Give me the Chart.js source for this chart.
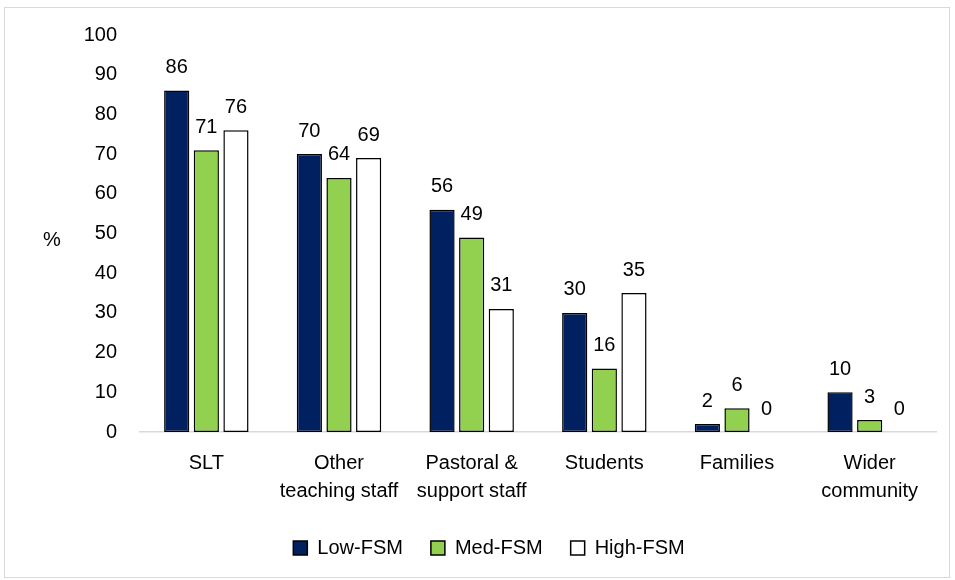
<!DOCTYPE html>
<html>
<head>
<meta charset="utf-8">
<script src="https://cdn.jsdelivr.net/npm/chart.js@4"></script>
<style>
  body { margin: 0; background: #fff; }
  #wrap { width: 955px; height: 580px; }
</style>
</head>
<body>
<div id="wrap"><canvas id="chart" width="955" height="580"></canvas></div>
<script>
const categories = [
  "SLT",
  ["Other", "teaching staff"],
  ["Pastoral &", "support staff"],
  "Students",
  "Families",
  ["Wider", "community"],
];
const lowFsm = [86, 70, 56, 30, 2, 10];
const medFsm = [71, 64, 49, 16, 6, 3];
const highFsm = [76, 69, 31, 35, 0, 0];
const yTicks = [0, 10, 20, 30, 40, 50, 60, 70, 80, 90, 100];

const FONT = "'Liberation Sans', Arial, sans-serif";

// frame, y title and value labels
const extras = {
  id: "extras",
  beforeDraw(chart) {
    const ctx = chart.ctx;
    ctx.save();
    ctx.strokeStyle = "#d9d9d9";
    ctx.lineWidth = 1;
    ctx.strokeRect(4.5, 7.5, 945, 570);
    ctx.restore();
  },
  afterDatasetsDraw(chart) {
    const ctx = chart.ctx;
    ctx.save();
    ctx.fillStyle = "#000";
    ctx.font = `20px ${FONT}`;
    ctx.textAlign = "center";
    ctx.textBaseline = "middle";
    chart.data.datasets.forEach((ds, i) => {
      chart.getDatasetMeta(i).data.forEach((bar, j) => {
        ctx.fillText(String(ds.data[j]), bar.x, bar.y - 23);
      });
    });
    ctx.fillText("%", 52, 240);
    ctx.restore();
  },
};

const dataset = (label, data, color) => ({
  label: label,
  data: data,
  backgroundColor: color,
  borderColor: "#000",
  borderWidth: 1.5,
  borderSkipped: false,
  categoryPercentage: 0.67,
  barPercentage: 0.85,
});

new Chart(document.getElementById("chart"), {
  type: "bar",
  data: {
    labels: categories,
    datasets: [
      dataset("Low-FSM", lowFsm, "#002060"),
      dataset("Med-FSM", medFsm, "#92d050"),
      dataset("High-FSM", highFsm, "#ffffff"),
    ],
  },
  options: {
    responsive: false,
    animation: false,
    layout: { padding: { top: 31, right: 19, left: 42, bottom: 12 } },
    scales: {
      x: {
        afterFit: (scale) => { scale.height = 78; },
        grid: { display: false, drawTicks: false },
        border: { color: "#d9d9d9", width: 1.5 },
        ticks: {
          color: "#000",
          font: { family: FONT, size: 20, lineHeight: 1.4 },
          padding: 17,
          maxRotation: 0,
          autoSkip: false,
        },
      },
      y: {
        min: 0,
        max: 100,
        afterFit: (scale) => { scale.width = 98; },
        afterBuildTicks: (scale) => { scale.ticks = yTicks.map((v) => ({ value: v })); },
        grid: { display: false, drawTicks: false },
        border: { display: false },
        ticks: {
          color: "#000",
          font: { family: FONT, size: 20 },
          padding: 23,
        },
      },
    },
    plugins: {
      legend: {
        position: "bottom",
        labels: {
          color: "#000",
          font: { family: FONT, size: 20 },
          boxWidth: 14,
          boxHeight: 14,
          padding: 28,
        },
      },
      tooltip: { enabled: false },
    },
  },
  plugins: [extras],
});
</script>
</body>
</html>
